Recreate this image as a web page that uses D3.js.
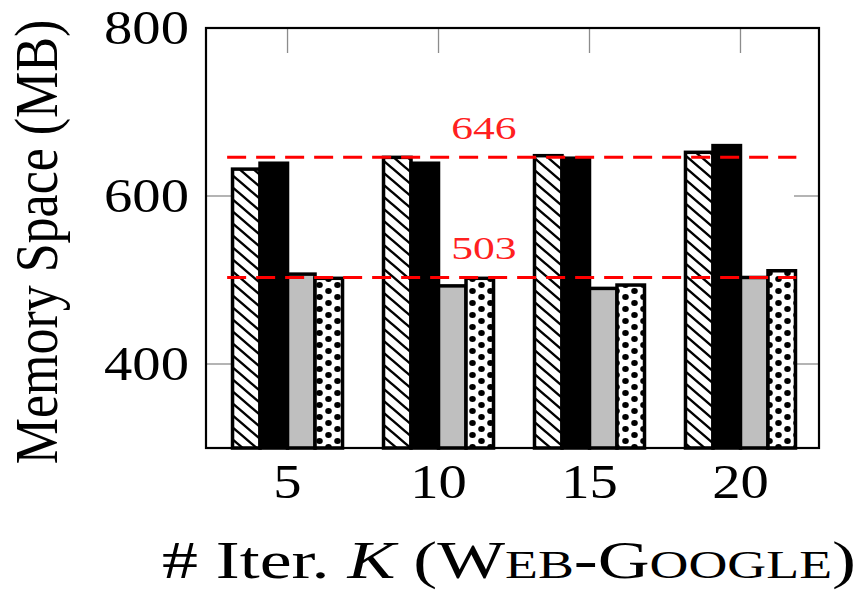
<!DOCTYPE html>
<html>
<head>
<meta charset="utf-8">
<script src="https://cdn.jsdelivr.net/npm/d3@7"></script>
<style>
  body { margin: 0; background: #fff; }
  text { font-family: 'Liberation Serif', 'Times New Roman', serif; }
</style>
</head>
<body>
<svg id="chart" width="862" height="591"></svg>
<script>
// iterations on the x axis
const iters = [5, 10, 15, 20];
// memory (MB) of the four bars of each group
const hatched = [632, 646, 648, 652];
const solid = [639, 639, 645, 660];
const gray = [507, 493, 490, 503];
const dotted = [502, 502, 494, 511];
const yTicks = [400, 600, 800];
// reference lines
const refLines = [646, 503];

const series = [
    {name: 'hatched', values: hatched, fill: 'url(#hatch)'},
    {name: 'solid', values: solid, fill: '#000'},
    {name: 'gray', values: gray, fill: '#bfbfbf'},
    {name: 'dotted', values: dotted, fill: 'url(#dots)'}
];

const plotLeft = 206, plotRight = 819, plotTop = 28, plotBottom = 448;
const barWidth = 27.5;
const stretch = 1.18;

const svg = d3.select('#chart');

const x = d3.scaleLinear().domain([2.3, 22.6]).range([plotLeft, plotRight]);
const y = d3.scaleLinear().domain([300, 800]).range([plotBottom, plotTop]);

// fill patterns
const defs = svg.append('defs');
const hw = 14, hh = 12;
defs.append('pattern')
    .attr('id', 'hatch')
    .attr('patternUnits', 'userSpaceOnUse')
    .attr('width', hw).attr('height', hh)
    .call(p => p.append('rect').attr('width', hw).attr('height', hh).attr('fill', '#fff'))
    .append('path')
    .attr('d', `M0,0L${hw},${hh}M0,${-hh}L${2 * hw},${hh}M${-hw},0L${hw},${2 * hh}`)
    .attr('stroke', '#000')
    .attr('stroke-width', 2.4);

const dw = 18, dh = 12;
const dp = defs.append('pattern')
    .attr('id', 'dots')
    .attr('patternUnits', 'userSpaceOnUse')
    .attr('width', dw).attr('height', dh);
dp.append('rect').attr('width', dw).attr('height', dh).attr('fill', '#fff');
[[dw / 4, dh / 4], [3 * dw / 4, 3 * dh / 4]].forEach(c => {
    dp.append('ellipse')
        .attr('cx', c[0]).attr('cy', c[1])
        .attr('rx', 3.3).attr('ry', 2.9)
        .attr('fill', '#000');
});

// tick marks (inside, mirrored)
const tickLen = 25;
const tickColor = '#8c8c8c';
const ticks = svg.append('g').attr('stroke', tickColor).attr('stroke-width', 1.3);
yTicks.filter(t => t < 800).forEach(t => {
    ticks.append('line').attr('x1', plotLeft).attr('x2', plotLeft + tickLen).attr('y1', y(t)).attr('y2', y(t));
    ticks.append('line').attr('x1', plotRight).attr('x2', plotRight - tickLen).attr('y1', y(t)).attr('y2', y(t));
});
iters.forEach(t => {
    ticks.append('line').attr('x1', x(t)).attr('x2', x(t)).attr('y1', plotTop).attr('y2', plotTop + tickLen);
    ticks.append('line').attr('x1', x(t)).attr('x2', x(t)).attr('y1', plotBottom).attr('y2', plotBottom - tickLen);
});

// bars
series.forEach((s, si) => {
    const offset = (si - 1.5) * barWidth;
    svg.append('g')
        .attr('class', 'bars-' + s.name)
        .selectAll('rect')
        .data(s.values)
        .enter()
        .append('rect')
        .attr('x', (d, i) => x(iters[i]) + offset - barWidth / 2)
        .attr('y', d => y(d))
        .attr('width', barWidth)
        .attr('height', d => plotBottom - y(d))
        .attr('fill', s.fill)
        .attr('stroke', '#000')
        .attr('stroke-width', 3.5);
});

// dashed reference lines and their labels
refLines.forEach(v => {
    svg.append('line')
        .attr('x1', x(3)).attr('x2', x(21.85))
        .attr('y1', y(v)).attr('y2', y(v))
        .attr('stroke', '#ff0000')
        .attr('stroke-width', 3)
        .attr('stroke-dasharray', '19,10');
    svg.append('text')
        .attr('transform', 'translate(' + x(11.5) + ',' + (y(v) - 18) + ') scale(1.36,1)')
        .attr('text-anchor', 'middle')
        .attr('font-size', 32)
        .attr('fill', '#ff2020')
        .text(v);
});

// frame
svg.append('rect')
    .attr('x', plotLeft).attr('y', plotTop)
    .attr('width', plotRight - plotLeft).attr('height', plotBottom - plotTop)
    .attr('fill', 'none')
    .attr('stroke', '#000')
    .attr('stroke-width', 2.2);

// tick labels
yTicks.forEach(t => {
    svg.append('text')
        .attr('transform', 'translate(' + 189 + ',' + (y(t) + 16) + ') scale(' + stretch + ',1)')
        .attr('text-anchor', 'end')
        .attr('font-size', 48)
        .text(t);
});
iters.forEach(t => {
    svg.append('text')
        .attr('transform', 'translate(' + x(t) + ',' + 498 + ') scale(' + stretch + ',1)')
        .attr('text-anchor', 'middle')
        .attr('font-size', 48)
        .text(t);
});

// axis titles
svg.append('text')
    .attr('transform', 'translate(57,242) scale(1.16,1) rotate(-90)')
    .attr('text-anchor', 'middle')
    .attr('font-size', 52)
    .text('Memory Space (MB)');

const xt = svg.append('text')
    .attr('x', 162)
    .attr('y', 578)
    .attr('font-size', 52)
    .attr('textLength', 694)
    .attr('lengthAdjust', 'spacingAndGlyphs');
xt.append('tspan').text('# Iter. ');
xt.append('tspan').attr('font-style', 'italic').text('K');
xt.append('tspan').text(' (W');
xt.append('tspan').attr('font-size', 39).text('EB');
xt.append('tspan').text('-G');
xt.append('tspan').attr('font-size', 39).text('OOGLE');
xt.append('tspan').text(')');
</script>
</body>
</html>
